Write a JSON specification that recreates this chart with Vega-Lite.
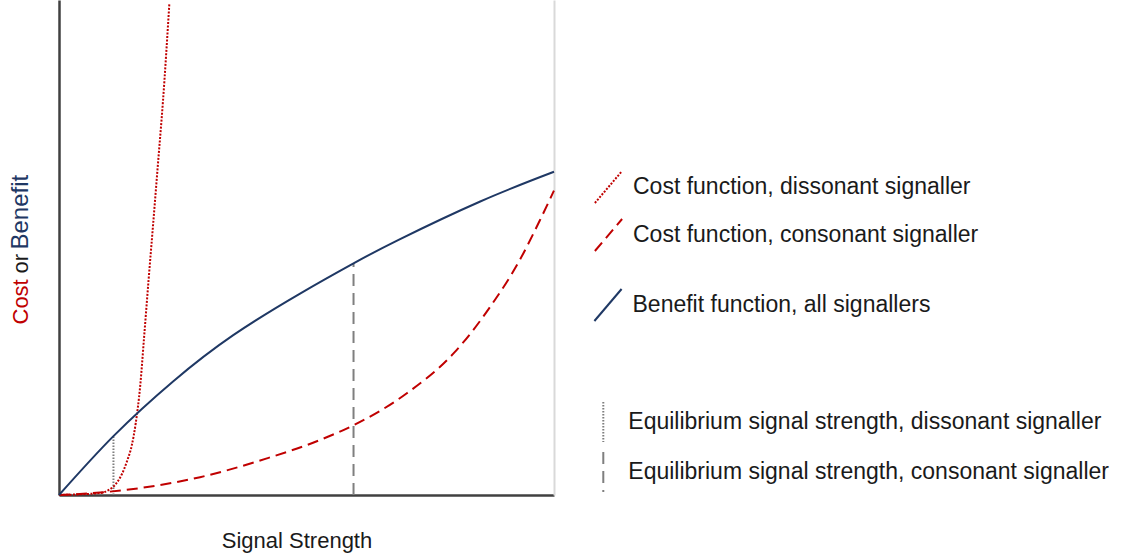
{
  "$schema": "https://vega.github.io/schema/vega-lite/v6.json",
  "width": 495,
  "height": 495,
  "autosize": {"type": "none"},
  "padding": {"left": 59, "top": 0, "right": 569, "bottom": 65},
  "background": "white",
  "config": {
    "font": "Liberation Sans",
    "view": {"stroke": null},
    "axis": {"grid": false, "ticks": false, "labels": false, "titleFontWeight": "normal", "titleFontSize": 22, "titleFont": "Liberation Sans"},
    "legend": {"labelFont": "Liberation Sans", "labelFontSize": 23, "labelColor": "#1a1a1a", "labelLimit": 0, "padding": 0, "title": null}
  },
  "datasets": {
    "cost": [
      {"series": "Cost function, dissonant signaller", "x": 0, "y": 0},
      {"series": "Cost function, dissonant signaller", "x": 0.83, "y": 0.04},
      {"series": "Cost function, dissonant signaller", "x": 1.0, "y": 0.1},
      {"series": "Cost function, dissonant signaller", "x": 1.13, "y": 0.2},
      {"series": "Cost function, dissonant signaller", "x": 1.27, "y": 0.42},
      {"series": "Cost function, dissonant signaller", "x": 1.38, "y": 0.7},
      {"series": "Cost function, dissonant signaller", "x": 1.47, "y": 1.0},
      {"series": "Cost function, dissonant signaller", "x": 1.55, "y": 1.45},
      {"series": "Cost function, dissonant signaller", "x": 1.64, "y": 2.2},
      {"series": "Cost function, dissonant signaller", "x": 1.72, "y": 3.2},
      {"series": "Cost function, dissonant signaller", "x": 1.81, "y": 4.35},
      {"series": "Cost function, dissonant signaller", "x": 1.9, "y": 5.45},
      {"series": "Cost function, dissonant signaller", "x": 2.0, "y": 6.7},
      {"series": "Cost function, dissonant signaller", "x": 2.1, "y": 7.95},
      {"series": "Cost function, dissonant signaller", "x": 2.23, "y": 9.94},
      {"series": "Cost function, consonant signaller", "x": 0, "y": 0},
      {"series": "Cost function, consonant signaller", "x": 0.83, "y": 0.05},
      {"series": "Cost function, consonant signaller", "x": 1.64, "y": 0.14},
      {"series": "Cost function, consonant signaller", "x": 2.85, "y": 0.36},
      {"series": "Cost function, consonant signaller", "x": 4.2, "y": 0.74},
      {"series": "Cost function, consonant signaller", "x": 5.27, "y": 1.11},
      {"series": "Cost function, consonant signaller", "x": 5.95, "y": 1.41},
      {"series": "Cost function, consonant signaller", "x": 7.02, "y": 2.05},
      {"series": "Cost function, consonant signaller", "x": 7.97, "y": 2.86},
      {"series": "Cost function, consonant signaller", "x": 8.71, "y": 3.8},
      {"series": "Cost function, consonant signaller", "x": 9.31, "y": 4.75},
      {"series": "Cost function, consonant signaller", "x": 9.72, "y": 5.56},
      {"series": "Cost function, consonant signaller", "x": 10, "y": 6.15}
    ],
    "benefit": [
      {"series": "Benefit function, all signallers", "x": 0, "y": 0},
      {"series": "Benefit function, all signallers", "x": 1.1, "y": 1.19},
      {"series": "Benefit function, all signallers", "x": 2.31, "y": 2.3},
      {"series": "Benefit function, all signallers", "x": 3.52, "y": 3.23},
      {"series": "Benefit function, all signallers", "x": 4.87, "y": 4.07},
      {"series": "Benefit function, all signallers", "x": 5.95, "y": 4.68},
      {"series": "Benefit function, all signallers", "x": 6.85, "y": 5.15},
      {"series": "Benefit function, all signallers", "x": 8.51, "y": 5.93},
      {"series": "Benefit function, all signallers", "x": 10, "y": 6.53}
    ],
    "equilibria": [
      {"eq": "Equilibrium signal strength, dissonant signaller", "x": 1.1, "y": 0, "y2": 1.19},
      {"eq": "Equilibrium signal strength, consonant signaller", "x": 5.95, "y": 0, "y2": 4.68}
    ]
  },
  "layer": [
    {
      "data": {"name": "equilibria"},
      "mark": {"type": "rule", "color": "#7f7f7f", "strokeWidth": 2},
      "encoding": {
        "x": {"field": "x", "type": "quantitative", "scale": {"domain": [0, 10], "nice": false, "zero": false},
          "axis": {"orient": "top", "domain": false, "title": "Benefit", "titleFontSize": 24, "titleColor": "#1F3864", "titleAngle": 270, "titleX": -32, "titleY": 249, "titleAlign": "left", "titleBaseline": "alphabetic"}},
        "y": {"field": "y", "type": "quantitative", "scale": {"domain": [0, 10], "nice": false}, "axis": null},
        "y2": {"field": "y2"},
        "strokeDash": {"field": "eq", "type": "nominal",
          "scale": {"domain": ["Equilibrium signal strength, dissonant signaller", "Equilibrium signal strength, consonant signaller"], "range": [[1.5, 1.5], [12, 7]]},
          "legend": {"orient": "none", "legendX": 523.3, "legendY": 401, "symbolType": "M0,-1L0,1", "symbolSize": 1600, "symbolStrokeWidth": 2, "symbolStrokeColor": "#7f7f7f", "labelOffset": 4, "rowPadding": 2}}
      }
    },
    {
      "data": {"name": "cost"},
      "mark": {"type": "line", "interpolate": "monotone", "strokeWidth": 2},
      "encoding": {
        "x": {"field": "x", "type": "quantitative", "scale": {"domain": [0, 10], "nice": false, "zero": false},
          "axis": {"orient": "bottom", "title": "Signal Strength", "domain": true, "domainColor": "#404040", "domainWidth": 2.5, "titleColor": "#1a1a1a", "titleX": 237.5, "titleY": 45, "titleAlign": "center", "titleBaseline": "middle"}},
        "y": {"field": "y", "type": "quantitative", "scale": {"domain": [0, 10], "nice": false},
          "axis": {"orient": "left", "title": "Cost", "domain": true, "domainColor": "#404040", "domainWidth": 2.5, "titleColor": "#C00000", "titleAngle": 270, "titleX": -32, "titleY": 324, "titleAlign": "left", "titleBaseline": "alphabetic"}},
        "color": {"field": "series", "type": "nominal",
          "scale": {"domain": ["Cost function, dissonant signaller", "Cost function, consonant signaller"], "range": ["#C00000", "#C00000"]},
          "legend": {"orient": "none", "legendX": 532.5, "legendY": 170, "symbolType": "M-0.85,1L0.85,-1", "symbolSize": 1024, "symbolStrokeWidth": 2, "labelOffset": 7.5, "rowPadding": 8}},
        "strokeDash": {"field": "series", "type": "nominal",
          "scale": {"domain": ["Cost function, dissonant signaller", "Cost function, consonant signaller"], "range": [[2, 1.5], [11, 6]]},
          "legend": {"orient": "none", "legendX": 532.5, "legendY": 170, "symbolType": "M-0.85,1L0.85,-1", "symbolSize": 1024, "symbolStrokeWidth": 2, "labelOffset": 7.5, "rowPadding": 8}}
      }
    },
    {
      "data": {"name": "benefit"},
      "mark": {"type": "line", "interpolate": "natural", "strokeWidth": 2},
      "encoding": {
        "x": {"field": "x", "type": "quantitative", "scale": {"domain": [0, 10], "nice": false, "zero": false}, "axis": null},
        "y": {"field": "y", "type": "quantitative", "scale": {"domain": [0, 10], "nice": false},
          "axis": {"orient": "right", "title": "or", "domain": true, "domainColor": "#d9d9d9", "domainWidth": 2, "titleColor": "#1a1a1a", "titleAngle": 270, "titleX": -527, "titleY": 273, "titleAlign": "left", "titleBaseline": "alphabetic"}},
        "color": {"field": "series", "type": "nominal",
          "scale": {"domain": ["Benefit function, all signallers"], "range": ["#1F3864"]},
          "legend": {"orient": "none", "legendX": 532, "legendY": 288, "symbolType": "M-0.85,1L0.85,-1", "symbolSize": 1024, "symbolStrokeWidth": 2, "labelOffset": 7.5}}
      }
    }
  ],
  "resolve": {
    "scale": {"color": "independent", "strokeDash": "independent"},
    "axis": {"x": "independent", "y": "independent"},
    "legend": {"color": "independent", "strokeDash": "independent"}
  }
}
